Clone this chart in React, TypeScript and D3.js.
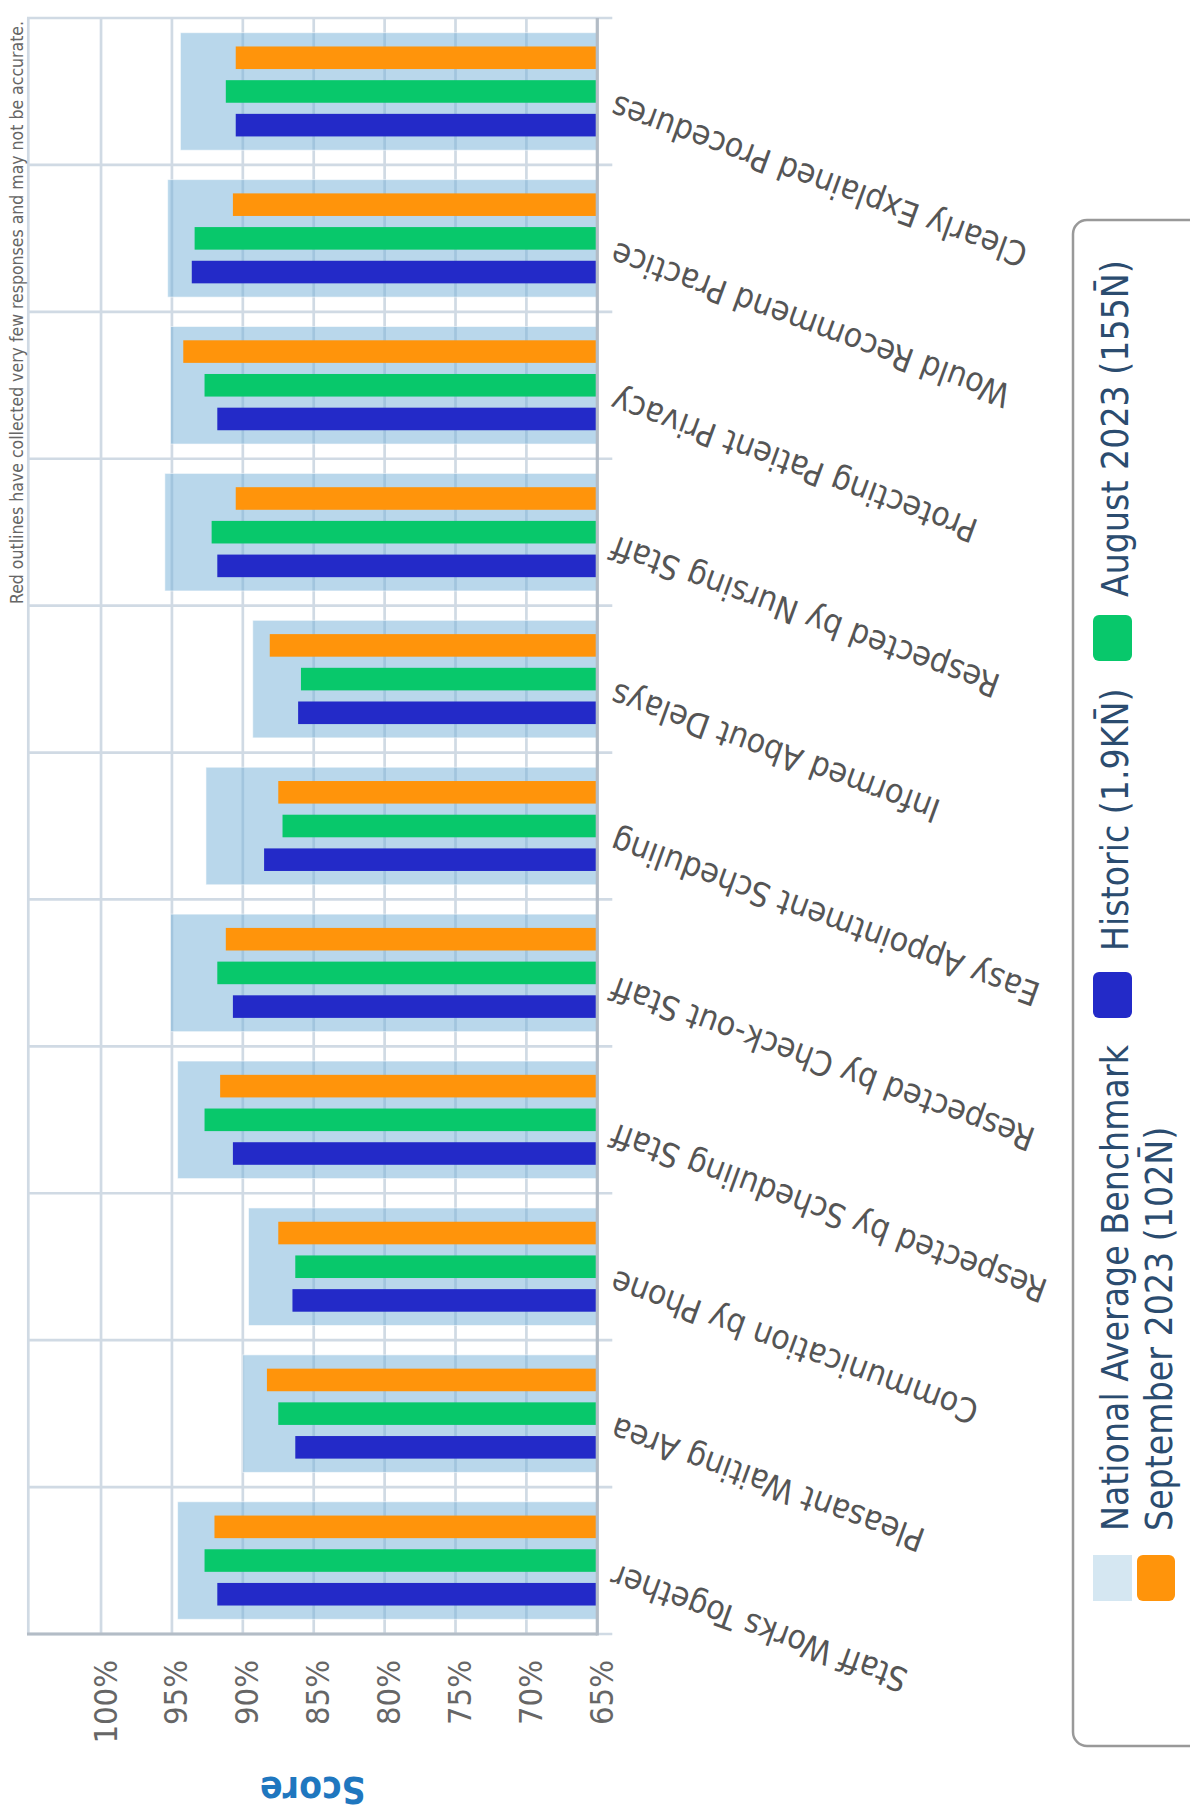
import React from "react";
import * as d3 from "d3";

const categories = [
  "Staff Works Together",
  "Pleasant Waiting Area",
  "Communication by Phone",
  "Respected by Scheduling Staff",
  "Respected by Check-out Staff",
  "Easy Appointment Scheduling",
  "Informed About Delays",
  "Respected by Nursing Staff",
  "Protecting Patient Privacy",
  "Would Recommend Practice",
  "Clearly Explained Procedures",
];
const benchmark = [94.6, 90.0, 89.6, 94.6, 95.1, 92.6, 89.3, 95.5, 95.1, 95.3, 94.4];
const historic = [91.8, 86.3, 86.5, 90.7, 90.7, 88.5, 86.1, 91.8, 91.8, 93.6, 90.5];
const august = [92.7, 87.5, 86.3, 92.7, 91.8, 87.2, 85.9, 92.2, 92.7, 93.4, 91.2];
const september = [92.0, 88.3, 87.5, 91.6, 91.2, 87.5, 88.1, 90.5, 94.2, 90.7, 90.5];
const seriesNames = ["Historic (1.9KN\u0304)", "August 2023 (155N\u0304)", "September 2023 (102N\u0304)"];
const benchmarkName = "National Average Benchmark";
const yTicks = [65, 70, 75, 80, 85, 90, 95, 100];
const yDomain = [65, 105.13];
const axisTitle = "Score";
const note = "Red outlines have collected very few responses and may not be accurate.";

const COLORS = ["#232ac8", "#08c86b", "#ff940b"];
const FONT = "'DejaVu Sans Condensed', 'DejaVu Sans', sans-serif";

const W = 1818;
const plot = { left: 184, right: 1800, top: 28.3, bottom: 597.3 };

export default function App() {
  const x = d3.scaleBand<string>().domain(categories).range([plot.left, plot.right]).paddingInner(0).paddingOuter(0);
  const y = d3.scaleLinear().domain(yDomain).range([plot.bottom, plot.top]);
  const bw = x.bandwidth();
  const inner = d3
    .scaleBand<number>()
    .domain([0, 1, 2])
    .range([bw / 2 - 0.344 * bw, bw / 2 + 0.344 * bw])
    .paddingInner(0.33)
    .paddingOuter(0.165);
  const series = [historic, august, september];
  const gridColor = "#d0dae4";
  const axisColor = "#b3bcc6";

  const boundaries = d3.range(categories.length + 1).map((i) => plot.left + i * bw);

  const legendRow1 = [
    { kind: "bench", sx: 217, tx: 287, label: benchmarkName, color: "#d5e7f2" },
    { kind: "s", sx: 800, tx: 867, label: seriesNames[0], color: COLORS[0] },
    { kind: "s", sx: 1157, tx: 1221, label: seriesNames[1], color: COLORS[1] },
  ];
  const legendRow2 = [{ kind: "s", sx: 217, tx: 287, label: seriesNames[2], color: COLORS[2] }];

  return (
    <svg
      width={1190}
      height={1818}
      style={{ position: "absolute", left: 0, top: 0, background: "#fff" }}
      fontFamily={FONT}
    >
      <rect x={0} y={0} width={1190} height={1818} fill="#fff" />
      <g transform={`translate(0,${W}) rotate(-90)`} style={{ fontStretch: "condensed" }}>
        {yTicks.slice(1).map((t) => (
          <line key={"g" + t} x1={plot.left} x2={plot.right} y1={y(t)} y2={y(t)} stroke={gridColor} strokeWidth={2.7} />
        ))}
        <line x1={plot.left} x2={plot.right} y1={plot.top} y2={plot.top} stroke={gridColor} strokeWidth={2.7} />
        {boundaries.map((b, i) => (
          <line key={"c" + i} x1={b} x2={b} y1={plot.top - 1.3} y2={plot.bottom + 15} stroke={gridColor} strokeWidth={2.7} />
        ))}
        {categories.map((c, i) => (
          <rect
            key={"b" + i}
            x={(x(c) as number) + 0.1 * bw}
            width={0.8 * bw}
            y={y(benchmark[i])}
            height={plot.bottom - y(benchmark[i])}
            fill="rgba(116,176,216,0.5)"
            stroke="rgba(255,255,255,0.55)"
            strokeWidth={1}
          />
        ))}
        {series.map((vals, s) =>
          categories.map((c, i) => (
            <rect
              key={"s" + s + "-" + i}
              x={(x(c) as number) + (inner(s) as number)}
              width={inner.bandwidth()}
              y={y(vals[i])}
              height={plot.bottom - y(vals[i])}
              fill={COLORS[s]}
            />
          ))
        )}
        <line x1={plot.left} x2={plot.left} y1={plot.top - 1.3} y2={plot.bottom} stroke={axisColor} strokeWidth={3.2} />
        <line x1={plot.left - 1.5} x2={plot.right} y1={plot.bottom} y2={plot.bottom} stroke={axisColor} strokeWidth={3.2} />
        {yTicks.map((t) => (
          <text key={"t" + t} x={158} y={y(t) + 15.5} textAnchor="end" fontSize={32.5} fill="#666">
            {t}%
          </text>
        ))}
        <text
          transform={`translate(41,${(plot.top + plot.bottom) / 2}) rotate(-90)`}
          textAnchor="middle"
          fontSize={37}
          fontWeight="bold"
          fill="#1f77bf"
        >
          {axisTitle}
        </text>
        {categories.map((c) => {
          const cx = (x(c) as number) + bw / 2;
          return (
            <text
              key={"l" + c}
              transform={`translate(${cx},${plot.bottom + 20}) rotate(-70)`}
              textAnchor="end"
              dy="-0.1em"
              fontSize={33.6}
              fill="#555"
            >
              {c}
            </text>
          );
        })}
        <text x={1797} y={22.5} textAnchor="end" fontSize={17.5} fill="#666">
          {note}
        </text>
        <rect x={72} y={1073} width={1526} height={220} rx={14} ry={14} fill="#fff" stroke="#999" strokeWidth={2.5} />
        {legendRow1.map((d) => (
          <g key={d.label}>
            <rect x={d.sx} y={1093} width={46} height={39} rx={d.kind === "bench" ? 0 : 6} fill={d.color} />
            <text x={d.tx} y={1128} fontSize={37} fill="#2b4c6f">
              {d.label}
            </text>
          </g>
        ))}
        {legendRow2.map((d) => (
          <g key={d.label}>
            <rect x={d.sx} y={1137} width={46} height={38} rx={6} fill={d.color} />
            <text x={d.tx} y={1172} fontSize={37} fill="#2b4c6f">
              {d.label}
            </text>
          </g>
        ))}
      </g>
    </svg>
  );
}
